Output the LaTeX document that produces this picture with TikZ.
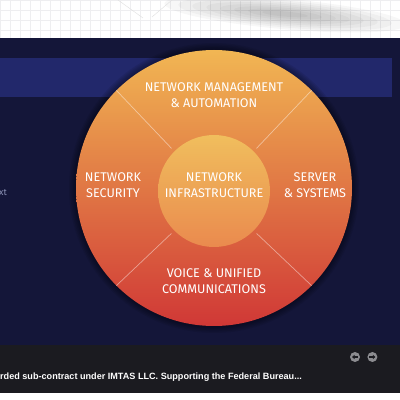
\documentclass[tikz,border=0pt]{standalone}
\usepackage{fontspec}
\setmainfont{Fira Sans}
\newfontfamily\tickerfont{Liberation Sans}
\usepackage{tikz}
\usetikzlibrary{arrows.meta,positioning}
\definecolor{grid}{HTML}{EEEEF0}
\definecolor{navy}{HTML}{141639}
\definecolor{bluebar}{HTML}{22286B}
\definecolor{ticker}{HTML}{1B1B20}
\definecolor{gold}{HTML}{F1B653}
\definecolor{orange}{HTML}{E88A3E}
\definecolor{red}{HTML}{D03836}
\definecolor{innertop}{HTML}{F0BE5D}
\definecolor{innerbottom}{HTML}{EA8A4E}
\definecolor{faint}{HTML}{8E94B8}
\definecolor{btn}{HTML}{8C8C90}
\tikzset{ring/.style={circle,inner sep=0pt,minimum size=#1},areatext/.style={text=white,align=center,font=\fontsize{12.6}{16}\selectfont},divider/.style={draw=white,draw opacity=.45,line width=.7pt},button/.style={circle,fill=btn,minimum size=10pt,inner sep=0pt}}
\begin{document}
\begin{tikzpicture}[x=1pt,y=1pt]
\useasboundingbox (0,0) rectangle (400,400);
% page behind the slider
\fill[white] (0,0) rectangle (400,400);
\draw[grid,line width=.3pt] (0,362) grid[step=10pt] (400,400);
\foreach \i in {1,...,8}
  \fill[black,opacity=.03,rotate around={-5:(285,386)}] (285,386) ellipse ({135-14*\i} and {17-1.8*\i});
\draw[gray!25,line width=.4pt] (118,400) -- (143,382) (172,400) -- (152,383);
% slider
\fill[navy] (0,55) rectangle (400,362);
\fill[bluebar] (0,303) rectangle (392,342);
\node[font=\fontsize{9}{9}\selectfont,text=faint,anchor=west,inner sep=0pt] (more) at (-1,207) {xt};
\foreach \i in {1,...,5}
  \fill[black,opacity=.08] (214,212) circle ({138+1.4*\i});
\node[ring=276pt,top color=gold,middle color=orange,bottom color=red] (outer) at (214,212) {};
\node[ring=112pt,top color=innertop,bottom color=innerbottom] (inner) at (214,209) {};
\foreach \a in {45,135,225,315}
  \draw[divider,shorten <=4pt] (inner.\a) -- (outer.\a);
\node[areatext] (infra) at (214,215) {NETWORK\\INFRASTRUCTURE};
\node[areatext] (mgmt) at (214,305) {NETWORK MANAGEMENT\\\& AUTOMATION};
\node[areatext] (security) at (113,215) {NETWORK\\SECURITY};
\node[areatext] (server) at (315,215) {SERVER\\\& SYSTEMS};
\node[areatext] (voice) at (214,119) {VOICE \& UNIFIED\\COMMUNICATIONS};
% ticker bar
\fill[ticker] (0,7) rectangle (400,55);
\node[font=\tickerfont\bfseries\fontsize{9.1}{10}\selectfont,text=white,anchor=west,inner sep=0pt] (news) at (0,23) {rded sub-contract under IMTAS LLC. Supporting the Federal Bureau...};
\node[button] (prev) at (355,43) {};
\node[button,right=7pt of prev] (next) {};
\draw[ticker,line width=1.2pt,-{Triangle[length=2.5pt,width=4pt]}] ([xshift=3pt]prev.center) -- ([xshift=-3pt]prev.center);
\draw[ticker,line width=1.2pt,-{Triangle[length=2.5pt,width=4pt]}] ([xshift=-3pt]next.center) -- ([xshift=3pt]next.center);
\end{tikzpicture}
\end{document}
